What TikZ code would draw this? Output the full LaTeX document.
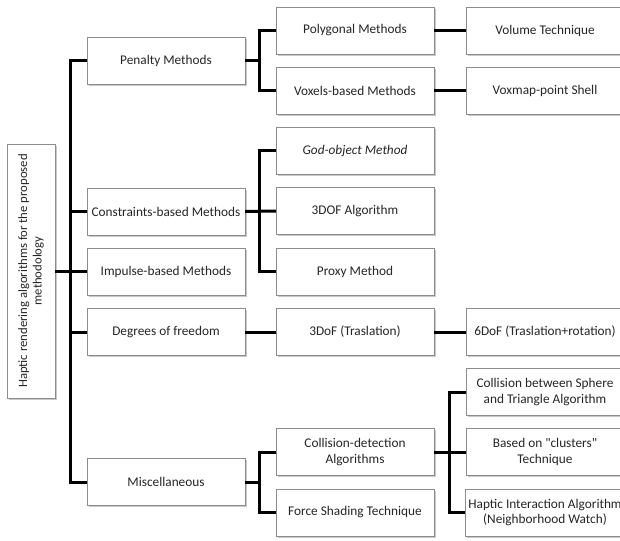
\documentclass[tikz,border=0pt]{standalone}
\usepackage{fontspec}
\setmainfont{Carlito}
\usetikzlibrary{positioning,shadows}
\tikzset{
  box/.style={draw=black!45, fill=white, minimum width=158pt, minimum height=47pt,
    align=center, text=black!85, font=\fontsize{13.3}{15.5}\selectfont,
    drop shadow={shadow xshift=1.5pt, shadow yshift=-1.8pt, fill=black!35, opacity=.6}},
  link/.style={line width=3pt}
}
\begin{document}
\begin{tikzpicture}[x=1pt,y=-1pt]
\useasboundingbox[fill=white] (0,0) rectangle (620,540);
\node[box, rotate=90, minimum width=254pt, minimum height=48pt, font=\fontsize{12.7}{14.5}\selectfont] (root) at (31,271)
  {Haptic rendering algorithms for the proposed\\methodology};
\node[box] (pen) at (166,60.5) {Penalty Methods};
\node[box] (cons) at (166,211.5) {Constraints-based Methods};
\node[box] (imp) at (166,271.5) {Impulse-based Methods};
\node[box] (deg) at (166,332) {Degrees of freedom};
\node[box] (misc) at (166,482) {Miscellaneous};
\node[box] (poly) at (355,30.5) {Polygonal Methods};
\node[box] (vox) at (355,91) {Voxels-based Methods};
\node[box] (god) at (355,151) {\itshape God-object Method};
\node[box] (alg) at (355,211) {3DOF Algorithm};
\node[box] (proxy) at (355,271.5) {Proxy Method};
\node[box] (tdof) at (355,332) {3DoF (Traslation)};
\node[box] (coll) at (355,452) {Collision-detection\\Algorithms};
\node[box] (force) at (355,512.5) {Force Shading Technique};
\node[box] (vol) at (545,30.5) {Volume Technique};
\node[box] (voxmap) at (545,91) {Voxmap-point Shell};
\node[box] (six) at (545,332) {6DoF (Traslation+rotation)};
\node[box] (sphere) at (545,392) {Collision between Sphere\\and Triangle Algorithm};
\node[box] (clus) at (545,452) {Based on \textquotedbl clusters\textquotedbl\\Technique};
\node[box] (hap) at (545,512.5) {Haptic Interaction Algorithm\\(Neighborhood Watch)};
\draw[link] (root.south) -- ++(16,0);
\draw[link] (pen.west) -- ++(-16,0) |- (misc.west);
\draw[link] (cons.west) -- ++(-16,0);
\draw[link] (imp.west) -- ++(-16,0);
\draw[link] (deg.west) -- ++(-16,0);
\draw[link] (pen.east) -- ++(15,0);
\draw[link] (poly.west) -- ++(-16,0) |- (vox.west);
\draw[link] (cons.east) -- (alg.west);
\draw[link] (god.west) -- ++(-16,0) |- (proxy.west);
\draw[link] (deg.east) -- (tdof.west);
\draw[link] (misc.east) -- ++(15,0);
\draw[link] (coll.west) -- ++(-16,0) |- (force.west);
\draw[link] (poly.east) -- (vol.west);
\draw[link] (vox.east) -- (voxmap.west);
\draw[link] (tdof.east) -- (six.west);
\draw[link] (coll.east) -- (clus.west);
\draw[link] (sphere.west) -- ++(-16,0) |- (hap.west);
\end{tikzpicture}
\end{document}
